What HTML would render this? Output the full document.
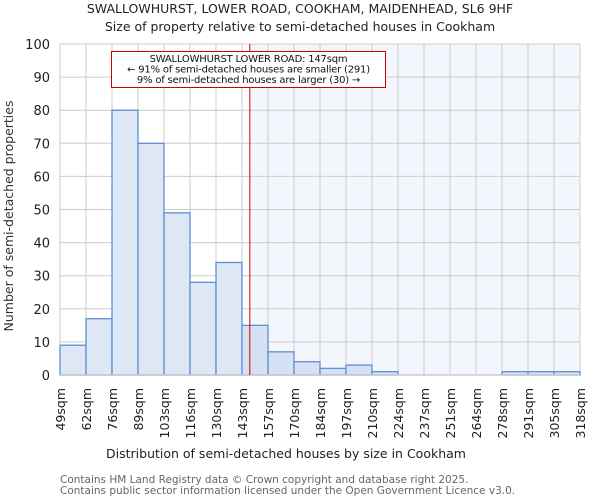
<!DOCTYPE html>
<html><head><meta charset="utf-8"><style>
body{margin:0;background:#fff}
svg{display:block;font-family:"DejaVu Sans","Liberation Sans",sans-serif}
</style></head><body>
<svg id="chart" width="600" height="500">
<text x="300" y="13" text-anchor="middle" font-size="12.5" fill="#222">SWALLOWHURST, LOWER ROAD, COOKHAM, MAIDENHEAD, SL6 9HF</text>
<text x="300" y="31" text-anchor="middle" font-size="12.5" fill="#222">Size of property relative to semi-detached houses in Cookham</text>
<g id="plot"></g>
<text x="286" y="458" text-anchor="middle" font-size="12.5" fill="#222">Distribution of semi-detached houses by size in Cookham</text>
<text transform="translate(13,216) rotate(-90)" text-anchor="middle" font-size="12.5" fill="#333">Number of semi-detached properties</text>
<text x="60" y="483" font-size="10.5" fill="#666">Contains HM Land Registry data © Crown copyright and database right 2025.</text>
<text x="60" y="494" font-size="10.5" fill="#666">Contains public sector information licensed under the Open Government Licence v3.0.</text>
</svg>
<script>
const binLabels=["49sqm","62sqm","76sqm","89sqm","103sqm","116sqm","130sqm","143sqm","157sqm","170sqm","184sqm","197sqm","210sqm","224sqm","237sqm","251sqm","264sqm","278sqm","291sqm","305sqm","318sqm"];
const counts=[9,17,80,70,49,28,34,15,7,4,2,3,1,0,0,0,0,1,1,1];
const yTicks=[0,10,20,30,40,50,60,70,80,90,100];
const markerIndex=7.3;
const NS="http://www.w3.org/2000/svg";
const L=60,R=580,T=44,B=375,yMax=100;
const bw=(R-L)/counts.length;
const xs=i=>L+i*bw;
const ys=v=>B-(v/yMax)*(B-T);
const g=document.getElementById('plot');
function mk(t,a){const e=document.createElementNS(NS,t);for(const k in a)e.setAttribute(k,a[k]);g.appendChild(e);return e;}
const mx=xs(markerIndex);
let e=mk('rect',{x:mx,y:T,width:R-mx,height:B-T,fill:'#f3f6fd'});


for(let i=0;i<binLabels.length;i++){
 e=mk('line',{x1:xs(i),x2:xs(i),y1:T,y2:B,stroke:'#ccc','stroke-width':1});
 
 
}
yTicks.forEach(v=>{
 e=mk('line',{x1:L,x2:R,y1:ys(v),y2:ys(v),stroke:'#ccc','stroke-width':1});
 
 
 e=mk('text',{x:L-10,y:ys(v)+5,'text-anchor':'end','font-size':13,fill:'#222'});
 e.textContent=v;
 
 
});
counts.forEach((c,i)=>{
 if(c<=0)return;
 e=mk('rect',{x:xs(i),y:ys(c),width:bw,height:B-ys(c),fill:(i>=7?'#d6e1f3':'#dee7f4'),stroke:'#5b8fd6','stroke-width':1.3});
 
 
});
e=mk('line',{x1:L,x2:R,y1:B,y2:B,stroke:'#ccc','stroke-width':1.5});


binLabels.forEach((s,i)=>{
 e=mk('text',{transform:`translate(${xs(i)+5},388) rotate(-90)`,'text-anchor':'end','font-size':12.5,fill:'#222'});
 e.textContent=s;
 
 
});
e=mk('line',{x1:mx,x2:mx,y1:T,y2:B,stroke:'#c00','stroke-width':1});


e=mk('rect',{x:111.5,y:51.5,width:274,height:36,fill:'#fff',stroke:'#c00','stroke-width':1});


["SWALLOWHURST LOWER ROAD: 147sqm","← 91% of semi-detached houses are smaller (291)","9% of semi-detached houses are larger (30) →"].forEach((s,k)=>{
 e=mk('text',{x:248.5,y:62+k*10.5,'text-anchor':'middle','font-size':10,'letter-spacing':'-0.2',fill:'#111'});
 e.textContent=s;
 
 
});
</script>
</body></html>
